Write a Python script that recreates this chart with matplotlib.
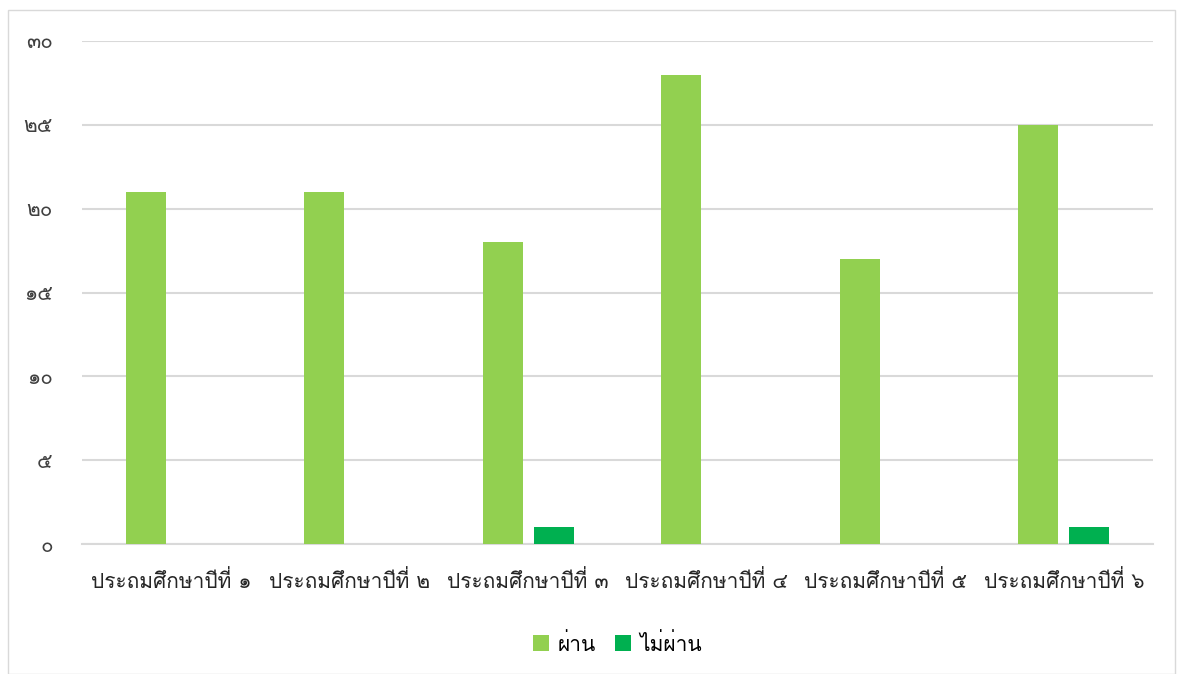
import matplotlib
matplotlib.use("Agg")
import matplotlib.pyplot as plt
from matplotlib import font_manager
from matplotlib.patches import Rectangle
import numpy as np
import os

for f in font_manager.findSystemFonts():
    if os.path.basename(f) in ("Loma.otf", "Sarabun-Regular.ttf"):
        try:
            font_manager.fontManager.addfont(f)
        except Exception:
            pass
plt.rcParams['font.family'] = ['Loma', 'Sarabun', 'DejaVu Sans']

categories = ["ประถมศึกษาปีที่ ๑", "ประถมศึกษาปีที่ ๒", "ประถมศึกษาปีที่ ๓",
              "ประถมศึกษาปีที่ ๔", "ประถมศึกษาปีที่ ๕", "ประถมศึกษาปีที่ ๖"]
series_names = ["ผ่าน", "ไม่ผ่าน"]
passed = [21, 21, 18, 28, 17, 25]
failed = [0, 0, 1, 0, 0, 1]
ytick_values = [0, 5, 10, 15, 20, 25, 30]
ytick_labels = ["๐", "๕", "๑๐", "๑๕", "๒๐", "๒๕", "๓๐"]

colors = ["#92d050", "#00b050"]

fig = plt.figure(figsize=(11.82, 6.74), dpi=100)
fig.patches.append(Rectangle((8/1182, 0), (1175-8)/1182, 1-10/674,
                             transform=fig.transFigure, fill=False,
                             edgecolor="#d9d9d9", linewidth=1.0))
ax = fig.add_axes([82/1182, 1-544/674, (1153-82)/1182, (544-41)/674])

x = np.arange(len(categories))
w = 0.224
off = 0.143
ax.bar(x - off, passed, w, color=colors[0], label=series_names[0], zorder=3)
ax.bar(x + off, failed, w, color=colors[1], label=series_names[1], zorder=3)

ax.set_xlim(-0.5, len(categories) - 0.5)
ax.set_ylim(0, 30)
ax.set_yticks(ytick_values)
ax.set_yticklabels(ytick_labels, fontsize=15, color="#404040")
ax.set_xticks(x)
ax.set_xticklabels(categories, fontsize=15, color="#262626")
ax.yaxis.grid(True, color="#d9d9d9", linewidth=1.5, zorder=0)
ax.set_axisbelow(True)
for s in ["top", "right", "left"]:
    ax.spines[s].set_visible(False)
ax.spines["bottom"].set_color("#d9d9d9")
ax.spines["bottom"].set_linewidth(1.5)
ax.tick_params(axis="both", length=0)
ax.tick_params(axis="y", pad=21)
ax.tick_params(axis="x", pad=19)

ax.legend(loc="upper center", bbox_to_anchor=(0.5, -0.139), ncol=2, frameon=False,
          fontsize=15, handlelength=0.8, handleheight=0.8, handletextpad=0.4,
          columnspacing=0.9)

fig.savefig("out.png", dpi=100)
